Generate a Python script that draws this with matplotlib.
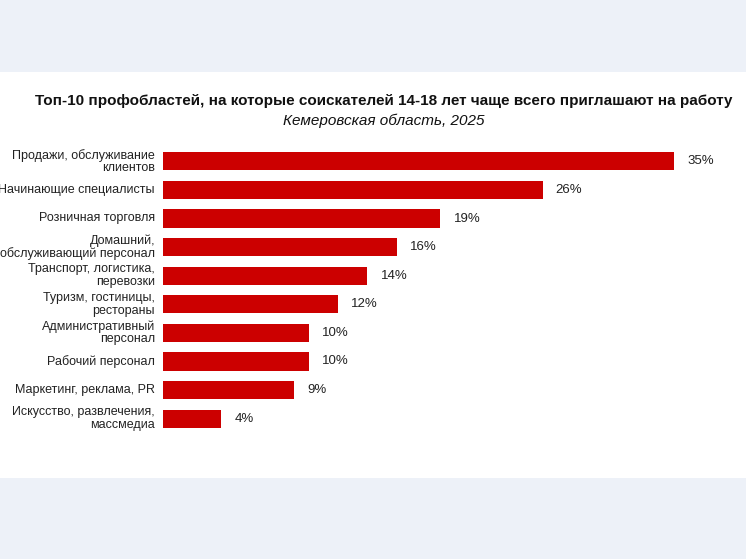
import matplotlib.pyplot as plt
from matplotlib.patches import Rectangle

plt.rcParams["font.family"] = "Liberation Sans"

categories = ["Продажи, обслуживание\nклиентов", "Начинающие специалисты", "Розничная торговля",
              "Домашний,\nобслуживающий персонал", "Транспорт, логистика,\nперевозки",
              "Туризм, гостиницы,\nрестораны", "Административный\nперсонал", "Рабочий персонал",
              "Маркетинг, реклама, PR", "Искусство, развлечения,\nмассмедиа"]
values = [35, 26, 19, 16, 14, 12, 10, 10, 9, 4]

W, H = 746, 559
fig = plt.figure(figsize=(W / 100, H / 100), dpi=100)
fig.patch.set_facecolor("#edf1f8")
bg = fig.add_axes([0, 1 - 478 / H, 1, (478 - 72) / H])
bg.set_facecolor("white")
bg.axis("off")
bg.add_patch(Rectangle((0, 0), 1, 1, transform=bg.transAxes, facecolor="white", edgecolor="none"))

ax = fig.add_axes([163 / W, 1 - 433 / H, (674 - 163) / W, (433 - 147) / H])
ax.set_zorder(2)
ax.set_facecolor("none")
y = range(len(values))
ax.barh(y, values, height=0.64, color="#cc0000")
ax.set_xlim(0, 35)
ax.set_ylim(len(values) - 0.5, -0.5)
for i, v in enumerate(values):
    ax.text(v + 0.9, i, f"{v}%", va="center", ha="left", fontsize=9.5, color="#222222")
    ax.text(-0.55, i, categories[i], va="center", ha="right", fontsize=9,
            color="#222222", linespacing=1.05)
ax.set_xticks([])
ax.set_yticks([])
for s in ax.spines.values():
    s.set_visible(False)

fig.text(384 / W, 1 - 101 / H, "Топ-10 профобластей, на которые соискателей 14-18 лет чаще всего приглашают на работу",
         ha="center", va="center", fontsize=11, fontweight="bold", color="#111111", zorder=3)
fig.text(384 / W, 1 - 121 / H, "Кемеровская область, 2025", ha="center", va="center",
         fontsize=11, style="italic", color="#111111", zorder=3)

fig.savefig("out.png", dpi=100)
